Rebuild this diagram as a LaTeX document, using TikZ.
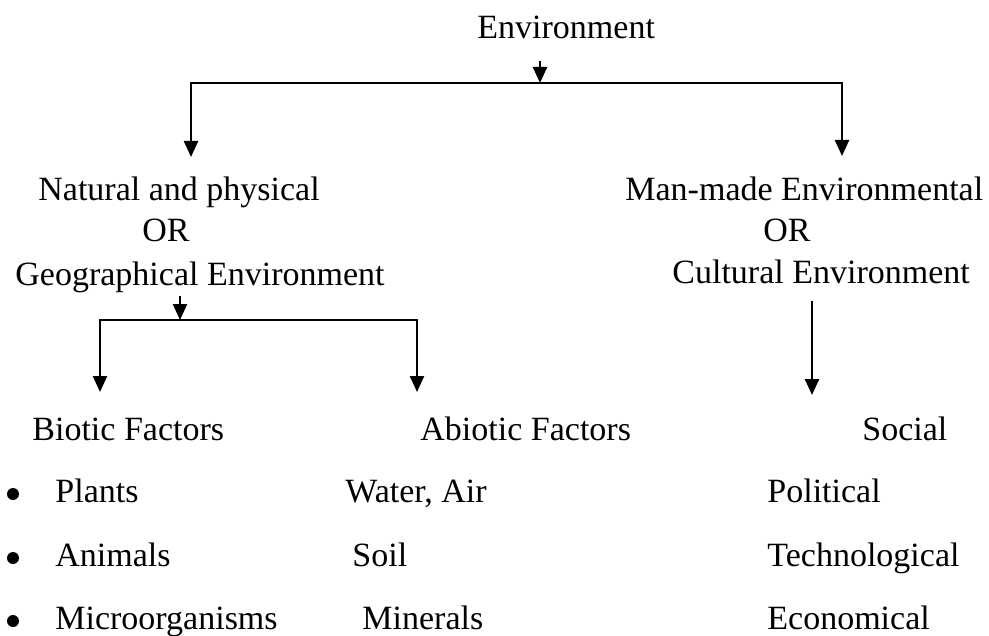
\documentclass[tikz,border=0pt]{standalone}
\usepackage{fontspec}
\setmainfont{Liberation Serif}
\usepackage{tikz}
\usetikzlibrary{positioning, arrows.meta, calc}

\tikzset{
  lbl/.style={font=\fontsize{17}{20}\selectfont, inner sep=0pt, anchor=base west},
  dot/.style={circle, fill=black, inner sep=0pt, minimum size=6pt},
  arr/.style={line width=1.2pt, -{Triangle[length=8pt, width=7pt]}},
}

\begin{document}
\begin{tikzpicture}[x=0.5pt, y=-0.5pt]
    \useasboundingbox (0,0) rectangle (989,636);
    % headings
    \node[lbl] (env) at (477,39) {Environment};
    \node[lbl] (nat) at (38,200) {Natural and physical};
    \node[lbl] (natOR) at (142,242) {OR};
    \node[lbl] (geo) at (15,285) {Geographical Environment};
    \node[lbl] (man) at (625,200) {Man-made Environmental};
    \node[lbl] (manOR) at (763,242) {OR};
    \node[lbl] (cult) at (672,283) {Cultural Environment};
    % third level
    \node[lbl] (biotic) at (32,440) {Biotic Factors};
    \node[lbl] (abiotic) at (420,440) {Abiotic Factors};
    \node[lbl] (social) at (862,440) {Social};
    % lists
    \node[dot] (bul1) at (13,494) {};
    \node[dot] (bul2) at (13,558) {};
    \node[dot] (bul3) at (13,621) {};
    \node[lbl] (plants) at (55,502) {Plants};
    \node[lbl] (animals) at (55,566) {Animals};
    \node[lbl] (micro) at (55,629) {Microorganisms};
    \node[lbl] (water) at (345,502) {Water, Air};
    \node[lbl] (soil) at (352,566) {Soil};
    \node[lbl] (minerals) at (362,629) {Minerals};
    \node[lbl] (political) at (767,502) {Political};
    \node[lbl] (techno) at (767,566) {Technological};
    \node[lbl] (econ) at (767,629) {Economical};
    % connectors
    \coordinate (envjoin) at (540,83);
    \coordinate (natdrop) at (191,157);
    \coordinate (mandrop) at (842,156);
    \coordinate (geojoin) at (180,320);
    \coordinate (bioticdrop) at (100,392);
    \coordinate (abioticdrop) at (417,392);
    \coordinate (socialdrop) at (812,395);
    \draw[arr] ([yshift=-10.5pt]env.south -| envjoin) -- (envjoin);
    \draw[arr] (envjoin) -| (natdrop);
    \draw[arr] (envjoin) -| (mandrop);
    \draw[arr] ([yshift=-1.5pt]geo.south -| geojoin) -- (geojoin);
    \draw[arr] (geojoin) -| (bioticdrop);
    \draw[arr] (geojoin) -| (abioticdrop);
    \draw[arr] ([yshift=-8.5pt]cult.south -| socialdrop) -- (socialdrop);
\end{tikzpicture}
\end{document}
